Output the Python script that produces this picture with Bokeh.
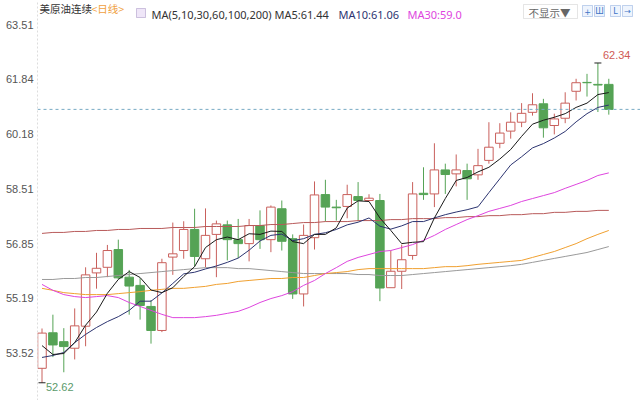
from bokeh.plotting import figure
from bokeh.models import Range1d, FixedTicker, Span, Label, BoxAnnotation, ColumnDataSource, PrintfTickFormatter
from bokeh.embed import file_html
from bokeh.resources import INLINE

# ---------------- data ----------------
opens = [53.06, 54.14, 53.87, 53.67, 54.34, 55.96, 56.13, 56.67, 55.83, 55.58,
         54.94, 54.21, 56.44, 56.64, 57.28, 56.39, 57.13, 57.42, 56.97, 56.85,
         57.40, 56.97, 57.91, 57.00, 55.32, 57.03, 58.34, 57.96, 57.98, 58.28,
         58.16, 58.16, 55.51, 56.01, 56.49, 58.38, 58.36, 59.09, 58.97, 59.07,
         58.94, 59.38, 59.90, 60.27, 60.54, 60.84, 61.10, 60.44, 60.66, 61.48,
         61.75, 61.69, 61.69]
highs = [54.27, 54.69, 54.28, 54.88, 56.13, 56.57, 56.81, 56.97, 56.05, 55.80,
         55.13, 56.39, 57.49, 57.53, 57.91, 57.92, 57.55, 57.55, 57.60, 57.60,
         57.86, 58.01, 58.16, 57.13, 57.43, 58.74, 58.79, 58.18, 58.64, 58.72,
         58.35, 58.36, 56.64, 56.82, 58.72, 59.17, 59.90, 59.28, 59.56, 59.28,
         59.73, 60.54, 60.51, 60.84, 61.12, 61.42, 61.25, 60.80, 61.45, 61.86,
         62.01, 62.34, 61.86]
lows = [52.62, 53.40, 52.94, 53.33, 53.73, 55.48, 55.83, 55.77, 54.69, 54.54,
        53.81, 54.16, 55.90, 56.39, 56.15, 56.13, 55.83, 56.34, 56.41, 56.31,
        56.69, 56.59, 56.64, 55.17, 54.94, 56.67, 57.52, 57.55, 57.62, 57.53,
        58.14, 55.10, 55.51, 55.47, 56.36, 58.18, 57.96, 58.36, 58.59, 58.18,
        58.79, 59.28, 59.75, 60.04, 60.39, 60.74, 60.07, 60.17, 60.51, 61.20,
        61.32, 60.85, 60.77]
closes = [54.13, 53.77, 53.72, 54.35, 55.90, 56.10, 56.64, 55.81, 55.56, 54.97,
          54.21, 56.27, 56.54, 57.28, 56.46, 57.10, 57.45, 56.97, 56.85, 57.40,
          56.97, 57.96, 56.92, 55.32, 57.10, 58.33, 57.96, 57.94, 58.34, 58.16,
          58.23, 55.50, 56.01, 56.36, 58.36, 58.34, 59.09, 58.95, 59.09, 58.82,
          59.22, 59.78, 60.21, 60.54, 60.81, 61.07, 60.37, 60.64, 61.12, 61.74,
          61.74, 61.67, 60.93]

ma5 = [53.75, 53.48, 53.51, 53.84, 54.37, 54.77, 55.34, 55.76, 56.00, 55.82,
       55.44, 55.36, 55.51, 55.85, 56.15, 56.73, 56.97, 57.05, 56.97, 57.15,
       57.13, 57.23, 57.22, 56.91, 56.85, 57.13, 57.13, 57.33, 57.93, 58.15,
       58.13, 57.63, 57.25, 56.85, 56.89, 56.91, 57.63, 58.22, 58.77, 58.86,
       59.03, 59.17, 59.42, 59.71, 60.11, 60.48, 60.60, 60.69, 60.80, 60.99,
       61.12, 61.38, 61.44]
ma10 = [53.39, 53.45, 53.54, 53.84, 54.09, 54.30, 54.48, 54.63, 54.82, 55.10,
        55.10, 55.35, 55.64, 55.93, 55.98, 56.08, 56.17, 56.28, 56.41, 56.65,
        56.93, 57.10, 57.14, 56.94, 57.00, 57.13, 57.18, 57.28, 57.42, 57.50,
        57.63, 57.38, 57.29, 57.39, 57.52, 57.52, 57.63, 57.73, 57.81, 57.88,
        57.97, 58.40, 58.82, 59.24, 59.49, 59.76, 59.89, 60.06, 60.26, 60.55,
        60.80, 60.99, 61.06]
ma30 = [55.61, 55.43, 55.30, 55.24, 55.21, 55.24, 55.27, 55.21, 55.06, 54.94,
        54.82, 54.70, 54.60, 54.60, 54.60, 54.63, 54.67, 54.73, 54.79, 54.91,
        55.06, 55.18, 55.27, 55.39, 55.58, 55.73, 55.94, 56.12, 56.31, 56.43,
        56.52, 56.61, 56.64, 56.73, 56.82, 56.95, 57.10, 57.28, 57.43, 57.58,
        57.70, 57.83, 57.92, 58.01, 58.13, 58.22, 58.31, 58.40, 58.53, 58.65,
        58.77, 58.92, 59.00]
ma60 = [55.49, 55.43, 55.36, 55.33, 55.30, 55.30, 55.30, 55.33, 55.36, 55.39,
        55.43, 55.46, 55.49, 55.49, 55.52, 55.55, 55.61, 55.64, 55.70, 55.73,
        55.76, 55.79, 55.79, 55.82, 55.82, 55.88, 55.94, 55.97, 56.00, 56.06,
        56.09, 56.09, 56.09, 56.09, 56.09, 56.09, 56.12, 56.15, 56.15, 56.18,
        56.22, 56.25, 56.28, 56.31, 56.34, 56.43, 56.52, 56.61, 56.73, 56.85,
        57.00, 57.13, 57.25]
ma100 = [55.76, 55.76, 55.79, 55.79, 55.82, 55.82, 55.85, 55.88, 55.91, 55.94,
         55.97, 56.00, 56.03, 56.06, 56.09, 56.12, 56.12, 56.12, 56.09, 56.09,
         56.06, 56.03, 56.00, 55.97, 55.94, 55.94, 55.94, 55.94, 55.94, 55.91,
         55.91, 55.88, 55.88, 55.88, 55.91, 55.94, 55.97, 56.00, 56.03, 56.06,
         56.09, 56.12, 56.15, 56.18, 56.22, 56.28, 56.34, 56.40, 56.46, 56.52,
         56.58, 56.67, 56.76]
ma200 = [57.16, 57.19, 57.19, 57.22, 57.22, 57.25, 57.25, 57.28, 57.28, 57.31,
         57.31, 57.31, 57.34, 57.34, 57.34, 57.37, 57.37, 57.37, 57.37, 57.40,
         57.40, 57.43, 57.43, 57.46, 57.49, 57.49, 57.52, 57.52, 57.52, 57.55,
         57.55, 57.55, 57.58, 57.58, 57.61, 57.61, 57.61, 57.64, 57.64, 57.67,
         57.67, 57.70, 57.70, 57.73, 57.73, 57.76, 57.76, 57.80, 57.80, 57.83,
         57.83, 57.86, 57.86]

y_ticks = [53.52, 55.19, 56.85, 58.51, 60.18, 61.84, 63.51]
last_price = 60.93
max_price = 62.34
min_price = 52.62

title_cn = "美原油连续"
title_period = "<日线>"
ma_title = "MA(5,10,30,60,100,200)"
ma_labels = ["MA5:61.44", "MA10:61.06", "MA30:59.0"]
hide_label = "不显示▼"
icon_glyphs = ["+", "Ш", "L", "→"]

# ---------------- styling / layout ----------------
W, H = 640, 400
FRAME_L = 37            # px inside the figure
PX_BAR = 10.9
PX_UNIT = 32.9
x_start = -(41.5 - FRAME_L) / PX_BAR
x_end = x_start + (W - FRAME_L) / PX_BAR
y_end = 63.51 + 24 / PX_UNIT
y_start = y_end - H / PX_UNIT

def fx(px):  # page px -> data x (annotation placement only)
    return x_start + (px - FRAME_L) / PX_BAR

def fy(py):
    return y_end - py / PX_UNIT

RED = "#c9605c"
GREEN = "#55a355"
C_MA5 = "#1a1a1a"
C_MA10 = "#2c3470"
C_MA30 = "#de45de"
C_MA60 = "#f0a030"
C_MA100 = "#9a9a9a"
C_MA200 = "#b85a5a"

p = figure(width=W, height=H, output_backend="svg", toolbar_location=None,
           x_range=Range1d(x_start, x_end), y_range=Range1d(y_start, y_end),
           x_axis_location=None, min_border_left=FRAME_L, min_border_right=0,
           min_border_top=0, min_border_bottom=0)
p.outline_line_color = None
p.background_fill_color = "white"
p.border_fill_color = "white"
p.xgrid.visible = False
p.ygrid.visible = False

ax = p.yaxis[0]
ax.ticker = FixedTicker(ticks=y_ticks)
ax.formatter = PrintfTickFormatter(format="%.2f")
ax.major_tick_line_color = None
ax.minor_tick_line_color = None
ax.major_tick_out = 0
ax.major_tick_in = 0
ax.major_label_standoff = 4
ax.major_label_text_font = "Liberation Sans"
ax.major_label_text_font_size = "11px"
ax.major_label_text_color = "#555555"
ax.axis_line_color = "#dddddd"
ax.axis_line_dash = "2 2"

# last price line
p.add_layout(Span(location=last_price, dimension="width", line_color="#78aac4",
                  line_dash="3 3", line_width=1))

# candles
idx = list(range(len(closes)))
up = [c >= o for o, c in zip(opens, closes)]
col = [RED if u else GREEN for u in up]
fill = [None if u else GREEN for u in up]
top = [max(o, c) for o, c in zip(opens, closes)]
bot = [min(o, c) for o, c in zip(opens, closes)]
src = ColumnDataSource(dict(x=idx, high=highs, low=lows, top=top, bottom=bot,
                            color=col, fill=fill))
p.segment(x0="x", y0="high", x1="x", y1="top", line_color="color", line_width=1, source=src)
p.segment(x0="x", y0="bottom", x1="x", y1="low", line_color="color", line_width=1, source=src)
p.vbar(x="x", top="top", bottom="bottom", width=0.78, fill_color="fill",
       line_color="color", line_width=1, source=src)

# moving averages
for ys, c in [(ma200, C_MA200), (ma100, C_MA100), (ma60, C_MA60), (ma30, C_MA30),
              (ma10, C_MA10), (ma5, C_MA5)]:
    p.line(idx, ys, line_color=c, line_width=1)

# max / min markers
imax = highs.index(max_price)
imin = lows.index(min_price)
p.scatter([imax, imin], [max_price, min_price], marker="dash", size=7,
          line_color="#222222", line_width=1)
p.add_layout(Label(x=imax, y=max_price, text=f"{max_price:.2f}", x_offset=5, y_offset=8,
                   text_baseline="middle", text_font="Liberation Sans",
                   text_font_size="11px", text_color="#d05a55"))
p.add_layout(Label(x=imin, y=min_price, text=f"{min_price:.2f}", x_offset=4, y_offset=-4,
                   text_baseline="middle", text_font="Liberation Sans",
                   text_font_size="11px", text_color="#5a9a6a"))

# header
def hdr(text, px, py, color, font="Noto Sans", size="11px", align="left"):
    p.add_layout(Label(x=fx(px), y=fy(py), text=text, text_baseline="middle",
                       text_align=align, text_font=font, text_font_size=size,
                       text_color=color))

hdr(title_cn, 39, 8, "#333333", font="Noto Sans CJK SC", size="10.5px")
hdr(title_period, 91, 8, "#f0a040", font="Noto Sans CJK SC", size="10.5px")
p.add_layout(BoxAnnotation(left=fx(136), right=fx(145), top=fy(8), bottom=fy(17),
                           fill_color="#efe6f8", fill_alpha=1, line_color="#6a4c9c", line_width=1))
hdr(ma_title, 151, 13.5, "#333333")
hdr(ma_labels[0], 274, 13.5, "#333333")
hdr(ma_labels[1], 338, 13.5, C_MA10)
hdr(ma_labels[2], 407, 13.5, C_MA30)

p.add_layout(BoxAnnotation(left=fx(523), right=fx(577), top=fy(4), bottom=fy(18),
                           fill_color="white", fill_alpha=1, line_color="#aaaaaa", line_width=1))
hdr(hide_label, 528, 12, "#666666", font="Noto Sans CJK SC", size="10.5px")
for l, g in zip([582, 594, 610, 622], icon_glyphs):
    p.add_layout(BoxAnnotation(left=fx(l), right=fx(l + 10), top=fy(5), bottom=fy(16),
                               fill_color="#eef4fd", fill_alpha=1, line_color="#3f74c6",
                               line_width=1))
    hdr(g, l + 5, 10.5, "#3f74c6", font="DejaVu Sans", size="8px", align="center")

open("out.html", "w").write(file_html(p, INLINE))
